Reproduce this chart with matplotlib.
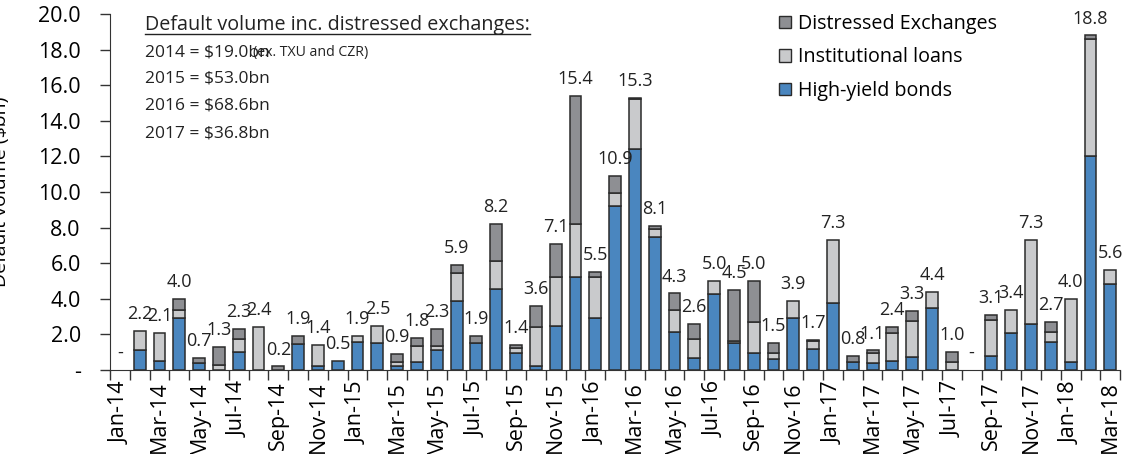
import numpy as np
import matplotlib
matplotlib.use('Agg')
import matplotlib.pyplot as plt
from matplotlib.patches import Patch
from matplotlib.lines import Line2D

plt.rcParams['font.family'] = ['Open Sans', 'DejaVu Sans']

# monthly default volumes ($bn), Jan-14 .. Mar-18
months = ['Jan-14', 'Feb-14', 'Mar-14', 'Apr-14', 'May-14', 'Jun-14', 'Jul-14', 'Aug-14', 'Sep-14', 'Oct-14',
          'Nov-14', 'Dec-14', 'Jan-15', 'Feb-15', 'Mar-15', 'Apr-15', 'May-15', 'Jun-15', 'Jul-15', 'Aug-15',
          'Sep-15', 'Oct-15', 'Nov-15', 'Dec-15', 'Jan-16', 'Feb-16', 'Mar-16', 'Apr-16', 'May-16', 'Jun-16',
          'Jul-16', 'Aug-16', 'Sep-16', 'Oct-16', 'Nov-16', 'Dec-16', 'Jan-17', 'Feb-17', 'Mar-17', 'Apr-17',
          'May-17', 'Jun-17', 'Jul-17', 'Aug-17', 'Sep-17', 'Oct-17', 'Nov-17', 'Dec-17', 'Jan-18', 'Feb-18',
          'Mar-18']

high_yield = [0, 1.1, 0.5, 2.9, 0.4, 0, 1.0, 0, 0, 1.45,
              0.2, 0.5, 1.6, 1.5, 0.25, 0.45, 1.1, 3.9, 1.5, 4.55,
              0.95, 0.25, 2.5, 5.2, 2.95, 9.2, 12.4, 7.5, 2.15, 0.65,
              4.25, 1.5, 0.95, 0.6, 2.95, 1.2, 3.75, 0.45, 0.4, 0.5,
              0.75, 3.5, 0, 0, 0.8, 2.1, 2.6, 1.55, 0.45, 12.0,
              4.85]
inst_loans = [0, 1.1, 1.6, 0.5, 0, 0.3, 0.75, 2.4, 0, 0,
              1.2, 0, 0.3, 1.0, 0.2, 0.9, 0.25, 1.55, 0, 1.6,
              0.3, 2.15, 2.75, 3.0, 2.3, 0.75, 2.8, 0.45, 1.2, 1.1,
              0.75, 0.15, 1.75, 0.35, 0.95, 0.45, 3.55, 0, 0.55, 1.6,
              2.0, 0.9, 0.45, 0, 2.0, 1.3, 4.7, 0.6, 3.55, 6.6,
              0.75]
distressed = [0, 0, 0, 0.6, 0.3, 1.0, 0.55, 0, 0.2, 0.45,
              0, 0, 0, 0, 0.45, 0.45, 0.95, 0.45, 0.4, 2.05,
              0.15, 1.2, 1.85, 7.2, 0.25, 0.95, 0.1, 0.15, 0.95, 0.85,
              0, 2.85, 2.3, 0.55, 0, 0.05, 0, 0.35, 0.15, 0.3,
              0.55, 0, 0.55, 0, 0.3, 0, 0, 0.55, 0, 0.2,
              0]
totals = [0, 2.2, 2.1, 4.0, 0.7, 1.3, 2.3, 2.4, 0.2, 1.9,
          1.4, 0.5, 1.9, 2.5, 0.9, 1.8, 2.3, 5.9, 1.9, 8.2,
          1.4, 3.6, 7.1, 15.4, 5.5, 10.9, 15.3, 8.1, 4.3, 2.6,
          5.0, 4.5, 5.0, 1.5, 3.9, 1.7, 7.3, 0.8, 1.1, 2.4,
          3.3, 4.4, 1.0, 0, 3.1, 3.4, 7.3, 2.7, 4.0, 18.8,
          5.6]

notes = ['2014 = $19.0bn', '2015 = $53.0bn', '2016 = $68.6bn', '2017 = $36.8bn']

c_hy = '#4a86bf'
c_loan = '#c9cacc'
c_dist = '#8e8f93'
edge = '#2b2b2b'

x = np.arange(len(months))
hy = np.array(high_yield)
ln = np.array(inst_loans)
de = np.array(distressed)

fig = plt.figure(figsize=(11.3, 4.54), dpi=100)
ax = fig.add_axes([0.0973, 0.185, 0.894, 0.784])

w = 0.6
ax.bar(x, hy, w, color=c_hy, edgecolor=edge, linewidth=np.where(hy > 0, 1.1, 0))
ax.bar(x, ln, w, bottom=hy, color=c_loan, edgecolor=edge, linewidth=np.where(ln > 0, 1.1, 0))
ax.bar(x, de, w, bottom=hy + ln, color=c_dist, edgecolor=edge, linewidth=np.where(de > 0, 1.1, 0))

top = hy + ln + de
for i, t in enumerate(totals):
    s = '-' if t == 0 else '%.1f' % t
    ax.text(x[i], top[i] + 0.95, s, ha='center', va='center', fontsize=13, color='#222222')

ax.set_xlim(-0.5, len(months) - 0.5)
ax.set_ylim(0, 20)
ax.set_yticks(np.arange(0, 20.1, 2))
ax.set_yticklabels(['-'] + ['%.1f' % v for v in np.arange(2, 20.1, 2)], fontsize=15.5)
ax.set_xticks(x[::2])
ax.set_xticklabels(months[::2], rotation=90, fontsize=15.5)
ax.set_xticks(np.arange(-0.5, len(months), 1), minor=True)
ax.tick_params(axis='x', which='major', length=0, pad=8)
ax.tick_params(axis='x', which='minor', length=7, width=1, color='#333333')
ax.tick_params(axis='y', length=7, width=1, color='#333333', pad=14)

for s in ['top', 'right']:
    ax.spines[s].set_visible(False)
for s in ['left', 'bottom']:
    ax.spines[s].set_color('#333333')

ax.set_ylabel('Default volume ($bn)', fontsize=14)
ax.yaxis.set_label_coords(-0.099, 0.5)

# notes box, top left
title = ax.text(0.0347, 0.969, 'Default volume inc. distressed exchanges:', transform=ax.transAxes,
                fontsize=14.2, va='center', ha='left', color='#222222')
ys = [0.893, 0.818, 0.742, 0.664]
for yy, n in zip(ys, notes):
    ax.text(0.0347, yy, n, transform=ax.transAxes, fontsize=12.5, va='center', ha='left', color='#222222')
ax.text(0.1416, 0.891, '(ex. TXU and CZR)', transform=ax.transAxes, fontsize=10.2, va='center', ha='left',
        color='#222222')

fig.canvas.draw()
bb = title.get_window_extent().transformed(ax.transAxes.inverted())
ax.add_line(Line2D([bb.x0, bb.x1], [bb.y0 + 0.004, bb.y0 + 0.004], transform=ax.transAxes,
                   color='#222222', linewidth=1))

handles = [Patch(facecolor=c_dist, edgecolor=edge, label='Distressed Exchanges'),
           Patch(facecolor=c_loan, edgecolor=edge, label='Institutional loans'),
           Patch(facecolor=c_hy, edgecolor=edge, label='High-yield bonds')]
ax.legend(handles=handles, loc='upper left', bbox_to_anchor=(0.645, 1.05), frameon=False, fontsize=14.2,
          handlelength=0.6, handleheight=0.6, handletextpad=0.35, labelspacing=0.68)

plt.savefig('out.png', dpi=100)
